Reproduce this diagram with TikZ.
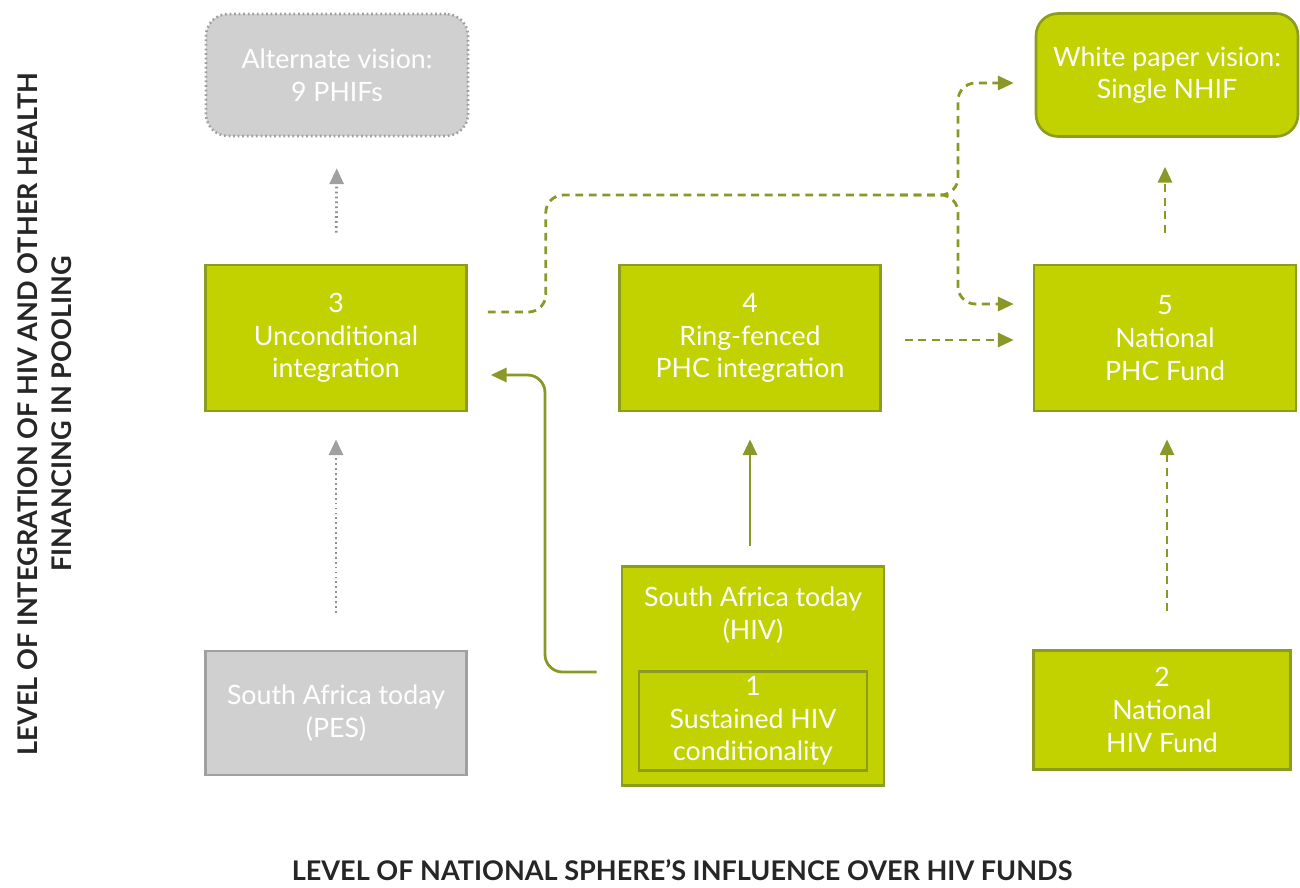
\documentclass[tikz,border=0pt]{standalone}
\usepackage{fontspec}
\setmainfont{Lato}
\usepackage{xcolor}
\usetikzlibrary{arrows.meta,positioning,calc}
\definecolor{gfill}{RGB}{194,209,0}
\definecolor{gedge}{RGB}{140,156,32}
\definecolor{garr}{RGB}{138,152,40}
\definecolor{pfill}{RGB}{208,208,208}
\definecolor{pedge}{RGB}{160,160,160}

\begin{document}
\begin{tikzpicture}[x=0.02cm,y=-0.02cm,
    font=\fontsize{15.2}{18.6}\selectfont,
    box/.style={draw=gedge,fill=gfill,line width=1.5pt,text=white,align=center,inner sep=0pt},
    pale/.style={draw=pedge,fill=pfill,line width=1.5pt,text=white,align=center,inner sep=0pt},
    tip/.style={-{Triangle[length=9pt,width=8pt]}},
    ptip/.style={-{Triangle[length=9pt,width=8pt,color=pedge]}},
    gline/.style={draw=garr,line width=1.6pt},
    gdash/.style={gline,dash pattern=on 4.5pt off 3.2pt},
    pdot/.style={draw=pedge!90!black,line width=1.6pt,dash pattern=on 1pt off 1.8pt},
    axis/.style={font=\fontsize{15.4}{19.4}\selectfont\bfseries,text=black!85,align=center,inner sep=0pt}]
  \useasboundingbox (0,0) rectangle (1300,887);
  % top row: visions
  \node[pale,rounded corners=0.44cm,dash pattern=on 1pt off 1.6pt,minimum width=5.24cm,minimum height=2.44cm] (altvis) at (337,75) {Alternate vision:\\9 PHIFs};
  \node[box,rounded corners=0.44cm,minimum width=5.24cm,minimum height=2.46cm] (white) at (1167,75) {White paper vision:\\Single NHIF};
  % middle row
  \node[box,minimum width=5.22cm,minimum height=2.92cm] (opt3) at (336,338) {3\\Unconditional\\integration};
  \node[box,minimum width=5.22cm,minimum height=2.92cm] (opt4) at (750,338) {4\\Ring-fenced\\PHC integration};
  \node[box,minimum width=5.24cm,minimum height=2.92cm] (opt5) at (1165,338) {5\\National\\PHC Fund};
  % bottom row
  \node[pale,minimum width=5.22cm,minimum height=2.48cm] (pes) at (336,713) {South Africa today\\(PES)};
  \node[box,minimum width=5.24cm,minimum height=4.38cm] (sahiv) at (753,676) {};
  \node[text=white,align=center] (sahivtxt) at (753,615) {South Africa today\\(HIV)};
  \node[box,minimum width=4.56cm,minimum height=1.98cm] (opt1) at (753,721) {1\\Sustained HIV\\conditionality};
  \node[box,minimum width=5.14cm,minimum height=2.38cm] (opt2) at (1162,710) {2\\National\\HIV Fund};
  % vertical moves
  \draw[pdot,ptip,shorten <=0.62cm,shorten >=0.62cm] (opt3.north) -- (altvis.south);
  \draw[pdot,ptip,shorten <=0.74cm,shorten >=0.54cm] (pes.north) -- (opt3.south);
  \draw[gline,tip,garr,shorten <=0.38cm,shorten >=0.54cm] ([xshift=-0.06cm]sahiv.north) -- ([xshift=-0.06cm]sahiv.north |- opt4.south);
  \draw[gdash,tip,garr,shorten <=0.76cm,shorten >=0.54cm] ([xshift=0.1cm]opt2.north) -- ([xshift=0.1cm]opt2.north |- opt5.south);
  \draw[gdash,tip,garr,shorten <=0.62cm,shorten >=0.58cm] (opt5.north) -- (opt5.north |- white.south);
  % sideways moves
  \draw[gdash,tip,garr,shorten <=0.46cm,shorten >=0.38cm] ([yshift=-0.04cm]opt4.east) -- ([yshift=-0.04cm]opt4.east -| opt5.west);
  \coordinate (fork) at (900,195);
  \coordinate (toWhite) at ([xshift=-0.42cm,yshift=-0.16cm]white.west);
  \coordinate (toFive) at ([xshift=-0.38cm,yshift=0.68cm]opt5.west);
  \draw[gdash,tip,garr,rounded corners=0.35cm] ([xshift=0.4cm,yshift=0.52cm]opt3.east) -- ++(58,0) |- (fork) -| (958,83) -- (toWhite);
  \draw[gdash,tip,garr,rounded corners=0.35cm] (fork) -| (958,304) -- (toFive);
  \draw[gline,tip,garr,rounded corners=0.35cm] ([xshift=-0.48cm,yshift=0.08cm]sahiv.west) -| (545,375) -- ([xshift=0.46cm,yshift=-0.74cm]opt3.east);
  % axis titles
  \node[axis] (xlab) at (682,870) {LEVEL OF NATIONAL SPHERE’S INFLUENCE OVER HIV FUNDS};
  \node[axis,rotate=90] (ylab) at (45,414) {LEVEL OF INTEGRATION OF HIV AND OTHER HEALTH\\FINANCING IN POOLING};
\end{tikzpicture}
\end{document}
